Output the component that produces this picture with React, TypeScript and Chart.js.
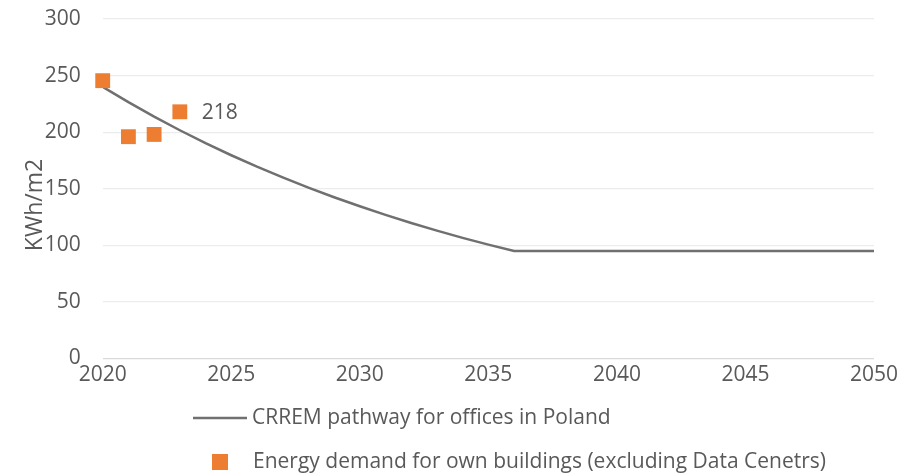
import React, { useEffect, useRef } from "react";
import { Chart, registerables } from "chart.js";

Chart.register(...registerables);

// ---- data ----
const pathwayYears = [2020, 2021, 2022, 2023, 2024, 2025, 2026, 2027, 2028, 2029, 2030, 2031, 2032, 2033, 2034, 2035, 2036, 2040, 2045, 2050];
const pathwayValues = [240, 226.5, 213.7, 201.7, 190.3, 179.6, 169.5, 160, 151, 142.5, 134.5, 126.9, 119.7, 113, 106.6, 100.6, 95, 95, 95, 95];
const demandYears = [2020, 2021, 2022, 2023];
const demandValues = [245.5, 196, 198, 218];
const labeledIndex = 3; // "218"
const seriesNames = ["CRREM pathway for offices in Poland", "Energy demand for own buildings (excluding Data Cenetrs)"];
const yAxisTitle = "KWh/m2";
const xMin = 2020, xMax = 2050, xStep = 5;
const yMin = 0, yMax = 300, yStep = 50;

const FONT = "'Open Sans', sans-serif";
const TEXT = "#595959";
const LINE = "#707070";
const ORANGE = "#ED7D31";

const overlay = {
  id: "overlay",
  afterDraw(chart: any) {
    const ctx = chart.ctx;
    ctx.save();
    // y-axis title
    ctx.fillStyle = TEXT;
    ctx.font = `23px ${FONT}`;
    ctx.translate(35, 205);
    ctx.rotate(-Math.PI / 2);
    ctx.textAlign = "center";
    ctx.textBaseline = "middle";
    ctx.fillText(yAxisTitle, 0, 0);
    ctx.restore();

    // data label
    const meta = chart.getDatasetMeta(0);
    const pt = meta.data[labeledIndex];
    ctx.save();
    ctx.fillStyle = TEXT;
    ctx.font = `21px ${FONT}`;
    ctx.textAlign = "left";
    ctx.textBaseline = "middle";
    ctx.fillText(String(demandValues[labeledIndex]), pt.x + 22, pt.y + 1);

    // legend
    ctx.strokeStyle = LINE;
    ctx.lineWidth = 2.5;
    ctx.beginPath();
    ctx.moveTo(193, 418);
    ctx.lineTo(247, 418);
    ctx.stroke();
    ctx.fillText(seriesNames[0], 252, 418);
    ctx.fillStyle = ORANGE;
    ctx.fillRect(212, 454, 16, 16);
    ctx.fillStyle = TEXT;
    ctx.fillText(seriesNames[1], 253, 462);
    ctx.restore();
  },
};

export default function App() {
  const ref = useRef<HTMLCanvasElement>(null);
  useEffect(() => {
    if (!ref.current) return;
    const chart = new Chart(ref.current, {
      type: "line",
      data: {
        datasets: [
          {
            label: seriesNames[1],
            data: demandYears.map((x, i) => ({ x, y: demandValues[i] })),
            showLine: false,
            clip: false,
            pointStyle: "rect",
            pointRadius: 10.5,
            pointBackgroundColor: ORANGE,
            pointBorderColor: ORANGE,
            pointBorderWidth: 0,
            backgroundColor: ORANGE,
            borderColor: ORANGE,
          },
          {
            label: seriesNames[0],
            data: pathwayYears.map((x, i) => ({ x, y: pathwayValues[i] })),
            borderColor: LINE,
            borderWidth: 2.5,
            pointRadius: 0,
            tension: 0,
            fill: false,
          },
        ],
      },
      options: {
        animation: false,
        responsive: true,
        maintainAspectRatio: false,
        layout: { padding: { top: 19, right: 45, bottom: 84.5, left: 0 } },
        plugins: { legend: { display: false }, tooltip: { enabled: false } },
        scales: {
          x: {
            type: "linear",
            min: xMin,
            max: xMax,
            afterFit: (s: any) => { s.height = 30; s.paddingLeft = 0; s.paddingRight = 0; },
            border: { display: false },
            grid: { display: false, drawTicks: false },
            ticks: {
              stepSize: xStep,
              padding: 4,
              color: TEXT,
              font: { family: FONT, size: 21 },
              callback: (v: any) => String(v),
              maxRotation: 0,
            },
          },
          y: {
            min: yMin,
            max: yMax,
            afterFit: (s: any) => { s.width = 102.7; s.paddingTop = 0; s.paddingBottom = 0; },
            border: { display: false },
            grid: {
              drawTicks: false,
              color: (c: any) => (c.tick && c.tick.value === 0 ? "#d9d9d9" : "#ececec"),
              lineWidth: 1.2,
            },
            ticks: {
              stepSize: yStep,
              padding: 22,
              color: TEXT,
              font: { family: FONT, size: 21 },
            },
          },
        },
      },
      plugins: [overlay],
    });
    return () => chart.destroy();
  }, []);
  return (
    <div style={{ position: "absolute", left: 0, top: 0, width: 919, height: 473, background: "#fff" }}>
      <canvas ref={ref} />
    </div>
  );
}
